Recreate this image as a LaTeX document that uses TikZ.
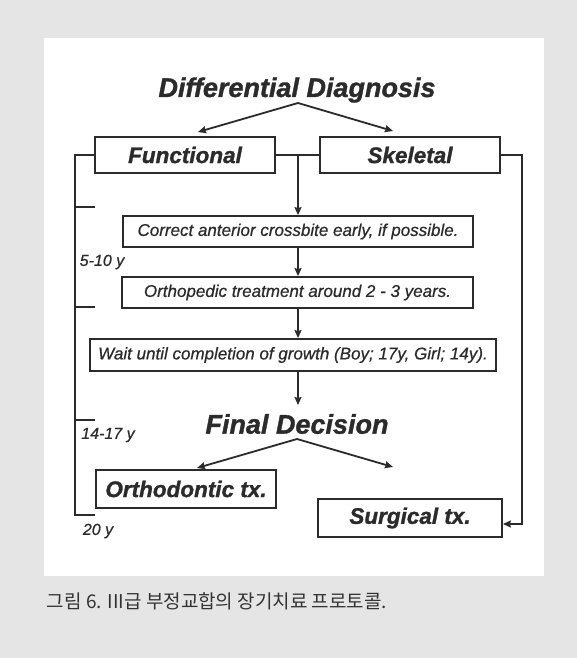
\documentclass[tikz,border=0pt]{standalone}
\usepackage{fontspec}
\setmainfont{Liberation Sans}
\newfontfamily\headfont[FakeBold=1.2]{Liberation Sans}
\newfontfamily\stepfont[FakeBold=0.6]{Liberation Sans}
\newfontfamily\krfont{Noto Sans CJK KR}
\usetikzlibrary{arrows.meta}
\definecolor{bggrey}{HTML}{E5E5E5}
\definecolor{ink}{HTML}{2B2B2B}
\definecolor{capink}{HTML}{333333}
\begin{document}
\begin{tikzpicture}[x=1pt,y=-1pt,
  line width=1.8pt, draw=ink, text=ink,
  arr/.style={-{Stealth[length=8pt,width=7pt,inset=1pt]}},
  headtxt/.style={font=\headfont\fontsize{27}{30}\selectfont\bfseries\itshape},
  bigbox/.style={draw, minimum width=180pt, minimum height=36pt, inner sep=0pt,
    font=\headfont\fontsize{22.5}{25}\selectfont\bfseries\itshape},
  stepbox/.style={draw, minimum height=31pt, inner sep=0pt,
    font=\stepfont\fontsize{17}{20}\selectfont\itshape},
  agetxt/.style={font=\stepfont\fontsize{16}{18}\selectfont\itshape}]
\useasboundingbox (0,0) rectangle (577,658);
\fill[bggrey] (0,0) rectangle (577,658);
\fill[white] (44,38) rectangle (544,576);

\node[headtxt] (title) at (297,90) {Differential Diagnosis};
\coordinate (tapex) at (298,103);
\coordinate (tleft) at (198,132);
\coordinate (tright) at (393,131);
\draw[arr] (tapex) -- (tleft);
\draw[arr] (tapex) -- (tright);

\node[bigbox] (func) at (185,155) {Functional};
\node[bigbox] (skel) at (410,155) {Skeletal};
\coordinate (junc) at (298,155);
\draw (func.east) -- (skel.west);

\node[stepbox, minimum width=350pt] (corr) at (298,231.5) {Correct anterior crossbite early, if possible.};
\node[stepbox, minimum width=351pt] (orth) at (297.5,292.5) {Orthopedic treatment around 2 - 3 years.};
\node[stepbox, minimum width=406pt, minimum height=32pt] (wait) at (293,355) {Wait until completion of growth (Boy; 17y, Girl; 14y).};

\draw[arr] (junc) -- (corr.north -| junc);
\draw[arr] (corr.south -| junc) -- (orth.north -| junc);
\draw[arr] (orth.south -| junc) -- (wait.north -| junc);

\node[headtxt] (final) at (297,424) {Final Decision};
\coordinate (fdown) at (298,405);
\draw[arr] (wait.south -| junc) -- (fdown);
\coordinate (fapex) at (297,439);
\coordinate (fleft) at (197,468);
\coordinate (fright) at (393,467);
\draw[arr] (fapex) -- (fleft);
\draw[arr] (fapex) -- (fright);

\node[bigbox, minimum height=38pt] (orthod) at (186,489) {Orthodontic tx.};
\node[bigbox, minimum width=184pt, minimum height=38pt] (surg) at (410,518) {Surgical tx.};

% left bracket
\coordinate (lt1) at (75,207);
\coordinate (lt2) at (75,307);
\coordinate (lt3) at (75,420);
\coordinate (lbot) at (75,515);
\draw (func.west) -- (func.west -| lbot) -- (lbot) -- ++(20,0);
\draw (lt1) -- ++(20,0);
\draw (lt2) -- ++(20,0);
\draw (lt3) -- ++(20,0);
\node[agetxt] (a1) at (102,262) {5-10 y};
\node[agetxt] (a2) at (108,435) {14-17 y};
\node[agetxt] (a3) at (98,531) {20 y};

% right connector
\coordinate (rcorner) at (522,155);
\draw[arr] (skel.east) -- (rcorner) |- ([yshift=-6pt]surg.east);

\node[anchor=west, text=capink, inner sep=0pt, font=\krfont\fontsize{19}{22}\selectfont] (cap) at (46,601) {그림 6. III급 부정교합의 장기치료 프로토콜.};
\end{tikzpicture}
\end{document}
